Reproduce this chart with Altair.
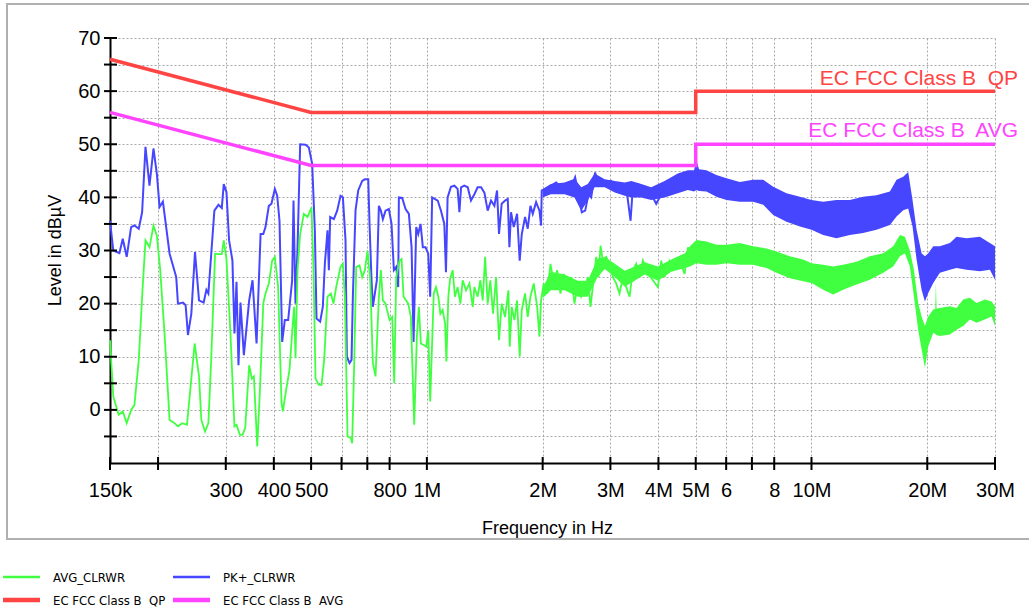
import altair as alt
import pandas as pd

# ---------------- data ----------------
# PK+_CLRWR trace (frequency in MHz, level in dBµV)
pk_freq_mhz = [
    0.1500, 0.1530, 0.1587, 0.1619, 0.1658, 0.1702, 0.1736, 0.1782, 0.1818, 0.1855,
    0.1900, 0.1946, 0.1986, 0.2018, 0.2059, 0.2143, 0.2230, 0.2253, 0.2322, 0.2359,
    0.2392, 0.2441, 0.2495, 0.2556, 0.2628, 0.2671, 0.2703, 0.2802, 0.2871, 0.2929,
    0.2964, 0.3012, 0.3060, 0.3122, 0.3160, 0.3199, 0.3237, 0.3276, 0.3343, 0.3451,
    0.3521, 0.3607, 0.3695, 0.3755,
    0.3805, 0.3882, 0.3944, 0.4024, 0.4081, 0.4138, 0.4205, 0.4272, 0.4358, 0.4464,
    0.4500, 0.4554, 0.4610, 0.4683, 0.4836, 0.4933, 0.5032, 0.5113, 0.5165, 0.5279,
    0.5363, 0.5429, 0.5516, 0.5561, 0.5605, 0.5730, 0.5845, 0.5963, 0.6048, 0.6144,
    0.6194, 0.6293, 0.6369, 0.6420, 0.6523, 0.6629, 0.6790, 0.6899, 0.7039, 0.7094,
    0.7179, 0.7237, 0.7412, 0.7502, 0.7592, 0.7684, 0.7807, 0.7965, 0.8092, 0.8207,
    0.8323, 0.8423, 0.8456, 0.8627, 0.8802, 0.8978, 0.9124, 0.9234, 0.9381, 0.9494,
    0.9629, 0.9762, 0.9921, 1.0080, 1.0200, 1.0320,
    1.067, 1.088, 1.110, 1.121, 1.132, 1.155, 1.179, 1.202, 1.215, 1.227,
    1.251, 1.277, 1.302, 1.329, 1.355, 1.383, 1.411, 1.439, 1.468, 1.498,
    1.522, 1.540, 1.565, 1.597, 1.623, 1.639, 1.655, 1.682, 1.716, 1.743,
    1.765, 1.800, 1.829, 1.859, 1.885, 1.923, 1.962, 1.981, 1.989, 2.042,
    2.104, 2.168, 2.234, 2.302, 2.372, 2.429, 2.468, 2.528, 2.580, 2.631,
    2.674, 2.738, 2.783, 2.839, 2.925, 3.014, 3.106, 3.201, 3.298, 3.385,
    3.432, 3.537, 3.681, 3.831, 3.947, 4.068, 4.190, 4.320, 4.490, 4.630,
    4.770, 4.920, 5.060,
]
pk_level = [
    35.6, 30.0, 29.5, 32.2, 28.8, 34.4, 34.7, 34.1, 37.2, 49.5,
    42.2, 49.2, 44.4, 38.2, 39.2, 29.4, 25.0, 20.0, 20.2, 19.7,
    14.1, 18.1, 29.7, 20.6, 20.2, 22.6, 21.9, 37.5, 38.6, 38.0,
    42.5, 41.0, 31.9, 28.1, 14.4, 24.1, 8.4, 20.2, 10.3, 20.6,
    24.4, 12.5, 33.1, 33.1,
    34.4, 38.4, 38.8, 41.6, 40.3, 35.6, 12.8, 16.9, 16.9, 24.4,
    39.4, 20.0, 30.6, 50.0, 49.9, 49.4, 46.3, 33.8, 17.2, 16.6,
    19.4, 27.5, 33.8, 26.3, 36.3, 35.9, 37.5, 40.3, 40.0, 31.9,
    10.0, 8.8, 9.4, 21.3, 37.5, 41.3, 43.1, 43.4, 43.4, 35.0,
    24.4, 19.4, 24.4, 38.4, 37.5, 35.9, 37.5, 37.8, 35.0, 26.3,
    26.9, 23.1, 40.0, 39.9, 37.8, 36.9, 30.6, 12.8, 34.4, 33.1,
    35.0, 30.6, 30.6, 29.4, 21.3, 40.0,
    39.4, 37.5, 35.0, 25.9, 40.0, 42.0, 42.2, 41.6, 37.2, 41.9,
    42.2, 41.9, 39.4, 40.6, 41.9, 41.9, 40.9, 37.5, 39.4, 38.4,
    41.3, 33.1, 38.8, 39.4, 39.7, 30.6, 37.2, 34.4, 36.9, 28.1,
    33.1, 36.3, 34.1, 38.4, 36.9, 39.1, 37.5, 34.7, 41.3, 41.6,
    42.2, 42.8, 41.9, 42.5, 41.9, 43.8, 41.3, 37.2, 37.5, 40.6,
    40.0, 44.7, 42.5, 43.1, 42.8, 43.1, 41.9, 41.3, 41.9, 35.6,
    41.9, 42.5, 41.6, 40.6, 38.8, 40.6, 41.9, 41.9, 43.8, 44.4,
    44.7, 44.4, 44.5,
]
# dense part of PK+ trace: envelope (MHz, low, high)
pk_band_freq = [
    2.00, 2.10, 2.28, 2.42, 2.52, 2.62, 2.73, 2.90, 3.08, 3.27,
    3.40, 3.61, 3.83, 4.15, 4.49, 4.77, 4.95, 5.02, 5.10, 5.33,
    5.66, 6.01, 6.51, 7.05, 7.49, 7.95, 8.61, 9.33, 10.0, 10.72,
    11.61, 12.58, 13.62, 14.76, 15.99, 16.64, 17.32, 17.84, 18.31, 18.76,
    19.33, 19.72, 20.12, 20.73, 21.57, 22.90, 23.83, 25.31, 27.40, 29.09,
    30.0,
]
pk_band_low = [
    40.0, 40.6, 40.6, 40.0, 37.5, 39.4, 41.9, 41.9, 40.9, 40.3,
    40.0, 40.0, 39.5, 40.0, 40.8, 41.4, 41.1, 41.4, 41.2, 41.1,
    40.1, 39.5, 39.2, 39.2, 38.6, 36.7, 35.4, 34.5, 33.9, 32.9,
    32.3, 32.9, 33.3, 33.9, 34.8, 36.4, 37.6, 37.9, 34.5, 28.3,
    22.6, 20.4, 22.0, 23.9, 25.8, 26.4, 26.7, 26.4, 26.1, 26.4,
    24.5,
]
pk_band_high = [
    41.6, 42.5, 42.8, 43.5, 41.9, 42.5, 44.5, 43.4, 43.1, 42.8,
    43.1, 42.5, 41.9, 43.1, 44.5, 45.1, 45.1, 47.0, 45.3, 45.1,
    44.2, 43.6, 42.9, 43.3, 43.3, 42.0, 40.8, 40.1, 39.5, 39.2,
    39.5, 39.5, 40.1, 40.4, 41.1, 43.3, 43.9, 44.8, 39.5, 33.9,
    29.5, 28.9, 29.5, 30.8, 30.8, 31.4, 32.6, 32.3, 32.6, 31.4,
    30.8,
]

# AVG_CLRWR trace
avg_freq_mhz = [
    0.1500, 0.1530, 0.1580, 0.1619, 0.1658, 0.1702, 0.1736, 0.1782, 0.1818, 0.1855,
    0.1900, 0.1946, 0.1986, 0.2026, 0.2079, 0.2143, 0.2208, 0.2253, 0.2312, 0.2378,
    0.2426, 0.2490, 0.2556, 0.2592, 0.2650, 0.2703, 0.2747, 0.2814, 0.2871, 0.2929,
    0.2964, 0.3012, 0.3085, 0.3160, 0.3199, 0.3264, 0.3316, 0.3370, 0.3451, 0.3507,
    0.3550, 0.3622, 0.3681, 0.3755,
    0.3805, 0.3882, 0.3960, 0.4024, 0.4105, 0.4188, 0.4222, 0.4307, 0.4393, 0.4482,
    0.4518, 0.4554, 0.4610, 0.4683, 0.4787, 0.4894, 0.5012, 0.5073, 0.5134, 0.5237,
    0.5322, 0.5407, 0.5516, 0.5628, 0.5718, 0.5810, 0.5963, 0.6048, 0.6120, 0.6218,
    0.6344, 0.6394, 0.6472, 0.6549, 0.6681, 0.6790, 0.6899, 0.7010, 0.7123, 0.7237,
    0.7353, 0.7502, 0.7592, 0.7684, 0.7807, 0.7996, 0.8126, 0.8224, 0.8323, 0.8491,
    0.8594, 0.8697, 0.8943, 0.9086, 0.9270, 0.9418, 0.9532, 0.9646, 0.9803, 0.9960,
    1.0080, 1.0200,
    1.042, 1.056, 1.071, 1.084, 1.099, 1.115, 1.124, 1.137, 1.149, 1.167,
    1.183, 1.202, 1.222, 1.239, 1.264, 1.290, 1.316, 1.329, 1.355, 1.377,
    1.397, 1.417, 1.439, 1.462, 1.486, 1.513, 1.540, 1.565, 1.597, 1.629,
    1.642, 1.662, 1.689, 1.716, 1.743, 1.765, 1.800, 1.829, 1.859, 1.896,
    1.935, 1.962, 1.981, 2.012, 2.054, 2.096, 2.138, 2.181, 2.225, 2.270,
    2.325, 2.372, 2.420, 2.468, 2.518, 2.569, 2.621, 2.663, 2.706, 2.755,
    2.794, 2.828, 2.868, 2.925, 2.985, 3.045, 3.106, 3.169, 3.233, 3.298,
    3.365, 3.432, 3.502, 3.572, 3.645, 3.755, 3.870, 3.987, 4.068, 4.150,
    4.277, 4.406, 4.540, 4.679, 4.773, 4.869, 4.968, 5.068,
]
avg_level = [
    13.1, 2.5, -0.9, -0.3, -2.5, 0.0, 0.9, 9.4, 21.3, 31.9,
    30.6, 34.7, 32.8, 26.3, 14.4, -1.9, -2.5, -3.1, -2.5, -2.8,
    3.8, 12.5, 6.3, -1.9, -4.1, -2.5, 8.8, 29.4, 29.3, 29.3,
    31.9, 28.4, 14.4, -3.1, -2.8, -4.7, -4.7, -3.4, 8.4, 5.9,
    6.3, -6.9, 3.8, 20.0,
    21.9, 23.8, 28.1, 28.8, 23.1, 1.3, -0.3, 3.8, 7.5, 16.3,
    19.4, 9.7, 26.3, 33.1, 36.9, 36.3, 38.1, 26.3, 5.9, 4.7,
    4.7, 9.4, 21.3, 21.9, 20.0, 23.1, 26.9, 27.5, 21.3, -5.0,
    -5.3, -6.3, 8.8, 26.9, 27.2, 25.0, 26.3, 30.0, 24.4, 8.8,
    6.3, 21.3, 26.3, 20.6, 20.0, 16.9, 17.5, 5.0, 25.0, 28.1,
    28.4, 21.3, 20.0, 17.5, -2.8, 13.8, 19.4, 12.5, 12.2, 11.9,
    15.0, 1.6,
    21.9, 23.1, 21.3, 18.1, 18.8, 16.3, 9.1, 21.3, 24.7, 26.3,
    21.3, 23.1, 20.0, 24.4, 22.5, 23.8, 19.4, 23.1, 21.3, 24.4,
    20.6, 28.8, 20.0, 24.4, 18.1, 25.0, 13.1, 20.0, 17.5, 22.5,
    11.9, 19.4, 16.9, 20.6, 10.0, 18.8, 21.9, 17.5, 21.3, 23.8,
    19.4, 13.8, 20.6, 23.8, 21.9, 27.5, 23.8, 26.3, 21.9, 25.6,
    22.5, 25.0, 20.0, 23.8, 21.3, 22.5, 25.0, 19.4, 23.8, 28.8,
    25.0, 30.9, 28.1, 28.8, 27.5, 25.0, 23.8, 21.9, 25.0, 23.1,
    21.3, 26.3, 27.5, 25.0, 28.1, 25.6, 24.4, 23.1, 28.1, 25.0,
    28.1, 26.9, 28.1, 25.6, 30.6, 28.1, 29.4, 28.8,
]
avg_band_freq = [
    2.00, 2.10, 2.28, 2.47, 2.62, 2.78, 2.90, 3.08, 3.27, 3.47,
    3.68, 3.99, 4.32, 4.69, 4.83, 5.02, 5.33, 5.66, 6.01, 6.51,
    7.05, 7.64, 8.11, 8.78, 9.51, 10.0, 10.72, 11.39, 12.09, 13.09,
    14.18, 15.36, 16.31, 16.98, 17.49, 18.02, 18.46, 18.94, 19.33, 19.72,
    20.12, 20.73, 20.98, 21.06, 21.14, 21.57, 22.90, 23.83, 24.80, 25.81,
    26.86, 28.23, 29.39, 30.0,
]
avg_band_low = [
    21.0, 22.5, 22.5, 21.3, 21.3, 25.0, 26.5, 25.0, 23.2, 24.3,
    25.5, 24.3, 26.0, 26.7, 27.0, 27.6, 27.3, 27.3, 27.6, 27.3,
    27.3, 26.7, 25.8, 24.8, 24.2, 23.9, 22.6, 21.7, 22.6, 23.6,
    24.5, 25.8, 27.0, 28.9, 29.5, 27.0, 21.4, 15.1, 11.4, 7.9,
    12.0, 14.5, 14.3, 14.2, 14.1, 13.9, 14.2, 15.1, 15.8, 17.0,
    16.4, 17.0, 17.6, 15.8,
]
avg_band_high = [
    23.0, 26.0, 25.5, 24.3, 24.3, 28.5, 28.8, 27.5, 26.2, 27.0,
    27.8, 27.0, 28.3, 29.5, 30.8, 32.0, 31.7, 31.1, 31.1, 31.4,
    30.8, 30.4, 29.8, 28.9, 28.3, 27.6, 27.3, 27.0, 27.3, 27.9,
    28.9, 29.5, 30.8, 32.9, 32.6, 30.0, 26.4, 20.1, 17.6, 15.8,
    17.6, 18.9, 19.0, 23.9, 19.1, 19.2, 19.5, 19.2, 20.8, 21.1,
    20.1, 20.8, 20.4, 19.5,
]

# limit lines
qp_limit_freq = [0.15, 0.5, 5.0, 5.0, 30.0]
qp_limit_level = [66, 56, 56, 60, 60]
av_limit_freq = [0.15, 0.5, 5.0, 5.0, 30.0]
av_limit_level = [56, 46, 46, 50, 50]

# axes
x_tick_values = [150e3, 200e3, 300e3, 400e3, 500e3, 600e3, 700e3, 800e3, 1e6,
                 2e6, 3e6, 4e6, 5e6, 6e6, 7e6, 8e6, 10e6, 20e6, 30e6]
x_tick_labels = ["150k", "", "300", "400", "500", "", "", "800", "1M",
                 "2M", "3M", "4M", "5M", "6", "", "8", "10M", "20M", "30M"]
y_tick_values = list(range(-10, 75, 5))

series_names = ["AVG_CLRWR", "PK+_CLRWR", "EC FCC Class B\u00a0 QP", "EC FCC Class B\u00a0 AVG"]
series_colors = ["#40ff40", "#4646ff", "#ff4444", "#ff44ff"]
limit_labels = ["EC FCC Class B\u00a0 QP", "EC FCC Class B\u00a0 AVG"]

for a, b in [(pk_freq_mhz, pk_level), (avg_freq_mhz, avg_level),
             (pk_band_freq, pk_band_low), (pk_band_freq, pk_band_high),
             (avg_band_freq, avg_band_low), (avg_band_freq, avg_band_high)]:
    assert len(a) == len(b), (len(a), len(b))

# ---------------- build tables ----------------
def line_df(freqs, levels):
    return pd.DataFrame({"f": [v * 1e6 for v in freqs], "level": levels,
                         "i": list(range(len(freqs)))})

def band_df(freqs, lo, hi):
    return pd.DataFrame({"f": [v * 1e6 for v in freqs], "level": lo, "hi": hi})

W, H = 885, 425
FONT = "Liberation Sans"

xscale = alt.Scale(type="log", domain=[150e3, 30e6], nice=False)
yscale = alt.Scale(domain=[-10, 70], nice=False, zero=False)

x_expr = " : ".join(f"round(datum.value) == {int(v)} ? '{l}'"
                    for v, l in zip(x_tick_values, x_tick_labels) if l) + " : ''"

x_axis = alt.Axis(values=x_tick_values, labelExpr=x_expr, grid=True,
                  gridDash=[2, 2], gridColor="#a8a8a8", gridWidth=1,
                  ticks=False, tickSize=0, labelPadding=17, labelFontSize=20,
                  labelFont=FONT, labelColor="black", labelOverlap=False,
                  labelBound=False, labelFlush=False, domainColor="black",
                  domainWidth=2, title="Frequency in Hz", titleFont=FONT,
                  titleFontSize=18, titleFontWeight="normal", titleColor="black",
                  titleX=437, titleY=70, titleAlign="center",
                  titleBaseline="alphabetic")
y_axis = alt.Axis(values=y_tick_values,
                  labelExpr="datum.value >= 0 && datum.value % 10 == 0 ? datum.label : ''",
                  grid=True, gridDash=[2, 2], gridColor="#a8a8a8", gridWidth=1,
                  ticks=False, tickSize=0, labelPadding=10, labelFontSize=20,
                  labelFont=FONT, labelColor="black", labelOverlap=False,
                  labelBound=False, labelFlush=False, domainColor="black",
                  domainWidth=2, title="Level in dBµV", titleFont=FONT,
                  titleFontSize=18, titleFontWeight="normal", titleColor="black",
                  titleAngle=270, titleX=-50, titleY=212, titleAlign="center",
                  titleBaseline="alphabetic")

# every layer uses the same field names and the same axis definitions
X = alt.X("f:Q", scale=xscale, axis=x_axis)
Y = alt.Y("level:Q", scale=yscale, axis=y_axis)

layers = []

# PK+ trace
layers.append(alt.Chart(band_df(pk_band_freq, pk_band_low, pk_band_high))
              .mark_area(color=series_colors[1], opacity=1)
              .encode(x=X, y=Y, y2="hi:Q"))
layers.append(alt.Chart(line_df(pk_freq_mhz, pk_level))
              .mark_line(color=series_colors[1], strokeWidth=2)
              .encode(x=X, y=Y, order="i:Q"))
# AVG trace
layers.append(alt.Chart(band_df(avg_band_freq, avg_band_low, avg_band_high))
              .mark_area(color=series_colors[0], opacity=1)
              .encode(x=X, y=Y, y2="hi:Q"))
layers.append(alt.Chart(line_df(avg_freq_mhz, avg_level))
              .mark_line(color=series_colors[0], strokeWidth=1.8)
              .encode(x=X, y=Y, order="i:Q"))
# limit lines
for freqs, levels, col in [(qp_limit_freq, qp_limit_level, series_colors[2]),
                           (av_limit_freq, av_limit_level, series_colors[3])]:
    layers.append(alt.Chart(line_df(freqs, levels))
                  .mark_line(color=col, strokeWidth=3.5)
                  .encode(x=X, y=Y, order="i:Q"))
# limit labels at the right end
for lbl, lev, col, dy in [(limit_labels[0], qp_limit_level[-1], series_colors[2], -6),
                          (limit_labels[1], av_limit_level[-1], series_colors[3], -7)]:
    layers.append(alt.Chart(pd.DataFrame({"f": [30e6], "level": [lev], "t": [lbl]}))
                  .mark_text(align="right", baseline="alphabetic", dx=23, dy=dy,
                             font=FONT, fontSize=21, color=col)
                  .encode(x=X, y=Y, text="t:N"))

# axis ticks crossing the axis lines
layers.append(alt.Chart(pd.DataFrame({"level": [v for v in y_tick_values if v > -10]}))
              .mark_rule(color="black", strokeWidth=2)
              .encode(y=Y, x=alt.value(-6), x2=alt.value(7)))
layers.append(alt.Chart(pd.DataFrame({"f": x_tick_values}))
              .mark_rule(color="black", strokeWidth=2)
              .encode(x=X, y=alt.value(H - 6), y2=alt.value(H + 7)))

one = pd.DataFrame({"k": [1]})
# outer frame
layers.append(alt.Chart(one).mark_rect(filled=False, stroke="#b0b0b0", strokeWidth=2)
              .encode(x=alt.value(-103), x2=alt.value(940),
                      y=alt.value(-34), y2=alt.value(501)))

# legend below the chart
leg_pos = [(-107, 539), (63, 539), (-107, 562), (63, 562)]
leg_width = [2.5, 2.5, 4.5, 4.5]
for (lx, ly), name, col, sw in zip(leg_pos, series_names, series_colors, leg_width):
    layers.append(alt.Chart(one).mark_rule(color=col, strokeWidth=sw)
                  .encode(x=alt.value(lx), x2=alt.value(lx + 37), y=alt.value(ly)))
    layers.append(alt.Chart(one)
                  .mark_text(text=name, align="left", baseline="middle",
                             font="DejaVu Sans Condensed, Liberation Sans Narrow, sans-serif",
                             fontSize=13, color="black")
                  .encode(x=alt.value(lx + 50), y=alt.value(ly + 1)))

chart = (alt.layer(*layers)
         .properties(width=W, height=H,
                     autosize=alt.AutoSizeParams(type="none"),
                     padding={"left": 110, "top": 38, "right": 34, "bottom": 151})
         .configure_view(stroke=None))

chart.save("out.html", embed_options={"renderer": "svg", "actions": False})
